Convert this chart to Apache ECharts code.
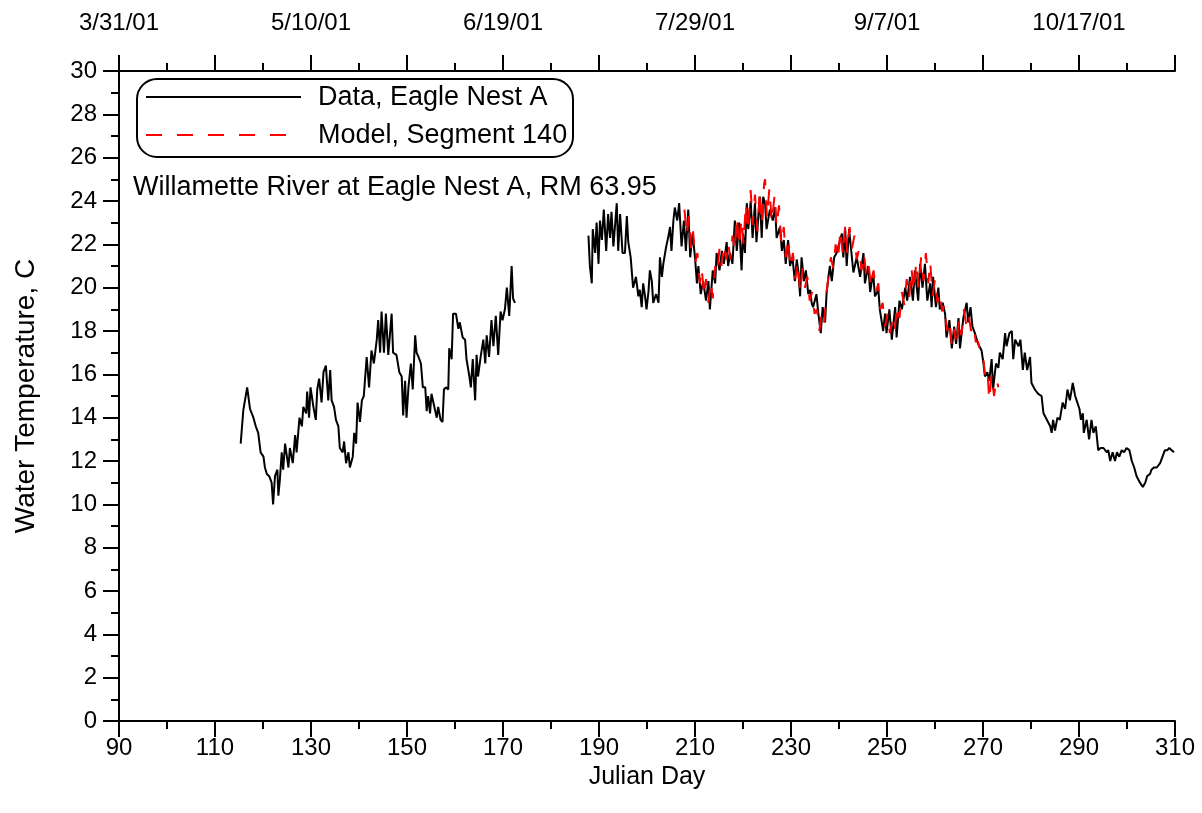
<!DOCTYPE html>
<html><head><meta charset="utf-8">
<script src="https://cdn.jsdelivr.net/npm/echarts@6/dist/echarts.min.js"></script>
<style>html,body{margin:0;padding:0;background:#fff}#c{width:1202px;height:813px}</style>
</head><body><div id="c"></div><script>
// Observed data, Eagle Nest A (day, temperature); null marks the data gap
const dataDays = [
115.35,115.9,116.7,117.3,118.0,118.5,119.0,119.5,120.1,120.4,120.8,121.3,121.8,122.1,122.5,123.0,123.2,123.5,123.9,124.2,124.6,125.3,125.6,126.2,126.7,127.0,127.6,128.1,128.4,129.0,129.2,129.6,129.9,130.5,131.0,131.3,131.7,132.2,132.6,133.1,133.6,134.0,134.3,134.8,135.2,135.7,136.0,136.6,136.9,137.3,137.8,138.1,138.7,139.0,139.4,139.7,140.2,140.6,141.0,141.6,142.1,142.6,143.1,143.7,144.0,
144.4,144.7,145.2,145.6,146.1,146.8,147.1,147.8,148.4,148.9,149.2,149.6,149.9,150.3,150.8,151.2,151.7,152.0,152.4,152.9,153.3,153.8,154.1,154.4,154.8,155.1,155.6,156.2,156.5,157.0,157.4,157.7,158.1,158.6,158.8,159.3,159.6,160.2,160.7,161.0,161.6,162.1,162.4,163.0,163.3,163.7,164.2,164.5,164.8,165.4,165.9,166.3,166.6,167.1,167.6,168.0,168.5,169.0,169.5,169.9,170.4,170.8,171.3,171.8,172.1,172.5,
180,
187.8,188.1,188.5,188.7,189.2,189.5,189.9,190.2,190.6,191.0,191.5,191.9,192.3,192.6,193.0,193.7,194.0,194.4,194.9,195.4,195.8,196.1,196.6,197.1,197.7,198.2,198.5,198.9,199.2,199.6,199.9,200.3,200.6,201.0,201.3,201.9,202.4,202.7,203.1,203.4,204.0,204.4,204.8,205.1,205.5,205.8,206.3,206.7,207.2,207.7,208.1,208.6,209.0,209.5,210.0,210.4,210.7,211.2,211.7,212.3,212.8,213.1,213.7,214.2,214.5,215.1,215.6,216.0,216.6,216.9,217.3,217.8,218.3,218.7,219.2,219.7,220.0,220.4,220.8,221.1,221.6,222.0,222.5,222.8,223.5,223.9,224.2,224.6,224.9,225.6,226.2,226.7,227.0,227.7,228.1,228.5,228.9,229.4,229.8,230.3,230.8,231.2,231.5,231.9,232.2,232.7,233.1,233.6,234.0,234.3,234.6,235.3,235.7,236.2,236.6,237.1,237.4,237.8,238.1,238.5,239.0,239.5,240.1,240.6,240.9,241.3,241.6,242.1,
243.0,243.7,244.4,245.1,245.4,246.1,246.5,247.1,247.5,248.2,248.5,249.2,249.6,249.9,250.5,251.0,251.7,252.0,252.6,253.1,253.8,254.2,254.8,255.4,255.8,256.5,256.9,257.4,257.9,258.4,259.0,259.3,259.6,260.2,260.7,261.0,261.6,262.1,262.4,263.0,263.5,264.0,264.4,264.9,265.2,265.9,266.6,266.9,267.4,267.8,268.3,269.0,269.7,270.1,270.4,270.9,271.3,271.8,272.1,272.7,273.2,273.5,274.1,274.6,274.9,275.5,276.0,276.3,276.7,277.4,277.8,278.3,278.7,279.2,279.8,280.1,280.8,281.5,282.2,282.6,283.3,284.0,284.3,284.6,285.0,285.5,286.0,286.6,287.1,287.6,288.1,288.7,289.2,289.5,290.1,290.4,290.8,291.0,291.6,292.1,292.6,293.0,293.5,294.0,294.5,295.1,295.8,296.1,296.5,297.0,297.5,297.9,298.4,298.9,299.4,299.9,300.5,301.0,301.5,302.0,302.7,303.3,303.8,304.2,304.8,305.1,305.6,306.2,306.9,307.4,307.9,308.4,308.8,309.3,309.8
];
const dataTemps = [
12.8,14.35,15.4,14.4,14.0,13.6,13.3,12.4,12.2,11.7,11.4,11.3,11.0,10.0,11.3,11.6,10.4,11.1,12.4,11.6,12.8,11.7,12.6,11.9,13.2,12.4,14.0,13.6,14.5,14.2,15.2,14.0,15.4,14.5,13.9,15.3,15.8,14.7,16.1,16.4,14.8,16.2,14.8,14.5,13.9,13.6,12.6,12.4,12.9,11.9,12.4,11.7,12.2,13.3,12.8,14.7,13.8,14.8,15.0,16.8,15.4,17.1,16.5,17.6,18.5,
17.0,18.9,17.0,18.8,16.9,18.8,17.0,16.9,16.1,15.9,14.1,15.7,14.0,15.4,16.5,15.3,17.8,17.0,16.8,16.5,15.4,15.4,14.3,15.0,14.2,15.1,14.6,14.0,14.5,13.9,13.8,15.3,15.4,15.3,17.2,16.7,18.8,18.8,18.1,18.4,17.7,17.6,16.7,15.9,15.4,16.7,14.8,16.9,15.9,16.9,17.6,16.5,17.8,16.8,18.5,17.3,18.7,16.9,18.9,18.5,19.0,20.0,18.7,21.0,19.5,19.3,
null,
22.4,21.0,20.2,22.7,21.6,23.0,21.1,23.1,22.2,23.6,21.7,23.4,22.3,23.5,21.9,23.9,21.7,23.4,21.6,21.6,23.3,22.1,21.4,20.0,20.5,19.6,19.9,19.1,20.2,19.6,19.0,19.8,20.8,20.3,19.3,19.7,19.3,21.4,20.5,21.1,21.9,22.3,22.8,21.7,23.1,23.7,23.1,23.9,21.9,23.1,21.7,23.6,21.4,22.5,21.4,20.2,21.0,19.7,20.3,19.4,20.3,19.0,20.8,20.2,21.6,20.8,21.7,21.1,22.1,21.0,21.6,21.1,23.1,21.7,23.0,20.8,22.5,21.6,23.9,22.7,24.0,22.3,23.9,22.1,24.2,22.3,24.2,23.9,22.7,23.6,23.1,23.7,22.3,22.8,21.7,22.2,21.1,22.2,21.0,21.4,20.3,21.3,20.8,19.6,21.4,20.3,20.8,19.7,19.9,19.3,19.1,19.7,18.8,17.9,19.1,18.4,19.7,20.5,21.0,20.3,21.4,21.6,22.1,22.5,21.4,22.7,21.0,22.7,
20.7,21.4,20.5,21.6,20.2,21.0,19.8,20.7,19.6,19.9,19.0,18.0,18.8,17.9,19.0,17.6,19.1,17.7,19.4,19.0,20.0,19.4,20.5,19.4,20.8,19.4,21.1,20.0,21.1,19.4,20.2,19.1,20.5,19.1,20.0,19.0,19.3,18.8,17.7,18.5,17.2,18.2,17.4,18.6,17.2,18.6,19.3,18.4,19.1,18.2,17.9,17.4,17.1,16.5,15.9,16.1,15.7,16.7,15.3,16.5,16.3,17.0,16.7,17.9,17.3,17.9,18.0,16.7,17.6,17.3,17.6,16.2,17.0,16.2,16.8,15.6,15.3,15.1,15.0,14.2,13.9,13.6,13.3,13.9,13.4,14.0,13.9,14.7,14.4,15.3,14.8,15.6,15.0,14.8,14.4,13.9,14.2,13.3,13.9,13.0,13.9,13.3,13.6,12.5,12.6,12.6,12.4,12.5,12.0,12.4,12.0,12.4,12.2,12.5,12.4,12.6,12.5,12.0,11.7,11.3,11.0,10.8,11.0,11.3,11.4,11.6,11.7,11.7,11.9,12.2,12.5,12.5,12.6,12.5,12.4
];
// Model, Segment 140
const modelDays = [
207.8,208.3,208.7,209.2,209.6,210.1,210.5,211.0,211.4,211.9,212.3,212.8,213.3,213.7,214.2,214.6,215.1,215.5,216.0,216.5,216.9,217.4,217.8,218.3,218.7,219.2,219.7,220.1,220.6,221.0,221.6,222.0,222.5,223.0,223.5,223.9,224.4,224.6,225.0,225.5,226.0,226.6,227.0,227.5,228.0,228.5,228.9,229.4,229.9,230.4,230.9,231.4,231.9,232.4,232.9,233.4,233.9,234.4,234.9,235.4,235.9,236.4,236.9,237.4,237.8,238.3,238.8,239.3,239.8,240.3,240.8,241.3,241.7,242.2,242.7,243.2,243.7,244.2,244.7,245.2,245.7,246.2,246.7,247.2,247.7,248.2,248.6,249.1,249.6,250.1,250.6,251.1,251.6,252.1,252.6,253.1,253.6,254.1,254.6,255.1,255.6,256.1,256.6,257.1,257.6,258.1,258.6,259.0,259.5,260.0,260.5,261.0,261.5,262.0,262.5,263.0,263.5,264.0,264.5,265.0,265.5,266.0,266.5,267.0,267.5,268.0,268.5,269.0,269.5,270.0,270.4,270.9,271.3,271.8,272.3,272.8,273.2
];
const modelTemps = [
23.6,22.4,23.3,21.8,22.6,21.2,21.6,20.2,20.9,19.6,20.4,19.3,20.3,19.5,21.0,20.6,21.8,21.0,22.0,21.3,22.1,21.3,22.4,21.7,23.3,21.9,23.2,22.0,23.9,22.6,24.5,22.9,24.3,22.6,24.5,22.9,24.8,25.0,23.2,24.6,23.0,24.3,22.8,23.8,22.0,22.8,21.4,22.3,20.9,21.6,20.4,21.2,19.8,20.9,20.0,20.5,19.4,19.8,18.8,19.0,18.0,18.9,18.4,19.8,20.5,21.4,20.9,22.0,21.3,22.7,21.5,22.9,21.6,22.8,21.8,22.4,21.3,21.8,20.8,21.6,20.5,21.0,20.0,20.8,19.8,20.2,19.0,19.3,18.2,18.8,17.9,18.5,18.0,19.2,18.6,19.8,19.2,20.4,19.5,20.9,19.8,21.2,20.0,21.4,20.3,21.6,20.2,21.2,19.6,20.4,19.3,19.8,18.9,19.2,18.0,18.5,17.3,18.1,17.3,18.6,17.8,19.0,18.3,18.8,18.0,18.3,17.5,17.5,16.9,16.9,16.0,16.3,14.8,16.0,15.0,15.8,15.4
];
// Axis labels
const topTickDays = [90,130,170,210,250,290];
const topTickLabels = ['3/31/01','5/10/01','6/19/01','7/29/01','9/7/01','10/17/01'];
const seriesNames = ['Data, Eagle Nest A','Model, Segment 140'];
const annotation = 'Willamette River at Eagle Nest A, RM 63.95';

const FONT = '"Liberation Sans", Arial, sans-serif';
const FS = 24;
const chart = echarts.init(document.getElementById('c'), null, {renderer:'canvas'});
const axisCommon = {
  type:'value', min:90, max:310, interval:20,
  axisLine:{show:true, onZero:false, lineStyle:{color:'#000', width:2}},
  axisTick:{show:true, inside:false, length:16, lineStyle:{color:'#000', width:2}},
  minorTick:{show:true, splitNumber:2, length:8, lineStyle:{color:'#000', width:2}},
  splitLine:{show:false}, minorSplitLine:{show:false}
};
chart.setOption({
  animation:false,
  backgroundColor:'#fff',
  grid:{left:119, right:27, top:71, bottom:92, containLabel:false},
  xAxis:[
    Object.assign({}, axisCommon, {
      position:'bottom',
      name:'Julian Day', nameLocation:'middle', nameGap:41,
      nameTextStyle:{fontFamily:FONT, fontSize:25, color:'#000'},
      axisLabel:{fontFamily:FONT, fontSize:FS, color:'#000', margin:15}
    }),
    Object.assign({}, axisCommon, {
      position:'top',
      axisLabel:{fontFamily:FONT, fontSize:FS, color:'#000', margin:36,
        formatter:function(v){const i=topTickDays.indexOf(v);return i>=0?topTickLabels[i]:'';}}
    })
  ],
  yAxis:{
    type:'value', min:0, max:30, interval:2,
    name:'Water Temperature, C', nameLocation:'middle', nameGap:79,
    nameTextStyle:{fontFamily:FONT, fontSize:28, color:'#000'},
    axisLine:{show:true, onZero:false, lineStyle:{color:'#000', width:2}},
    axisTick:{show:true, inside:false, length:16, lineStyle:{color:'#000', width:2}},
    minorTick:{show:true, splitNumber:2, length:8, lineStyle:{color:'#000', width:2}},
    axisLabel:{fontFamily:FONT, fontSize:FS, color:'#000', margin:22},
    splitLine:{show:false}, minorSplitLine:{show:false}
  },
  series:[
    {name:seriesNames[0], type:'line', xAxisIndex:0, symbol:'none', connectNulls:false,
     lineStyle:{color:'#000', width:2}, data:dataDays.map((d,i)=>[d, dataTemps[i]])},
    {name:seriesNames[1], type:'line', xAxisIndex:0, symbol:'none',
     lineStyle:{color:'#ff0000', width:2, type:[16,15]}, data:modelDays.map((d,i)=>[d, modelTemps[i]])}
  ],
  graphic:[
    {type:'rect', shape:{x:137, y:79, width:436, height:78, r:20}, style:{fill:'#fff', stroke:'#000', lineWidth:2}, z:10},
    {type:'line', shape:{x1:146, y1:97, x2:301, y2:97}, style:{stroke:'#000', lineWidth:2}, z:11},
    {type:'line', shape:{x1:146, y1:135, x2:293, y2:135}, style:{stroke:'#ff0000', lineWidth:2, lineDash:[16,15]}, z:11},
    {type:'text', x:318, y:98, style:{text:seriesNames[0], font:'27px '+FONT, fill:'#000', textVerticalAlign:'middle'}, z:11},
    {type:'text', x:318, y:136, style:{text:seriesNames[1], font:'27px '+FONT, fill:'#000', textVerticalAlign:'middle'}, z:11},
    {type:'text', x:133, y:188, style:{text:annotation, font:'27px '+FONT, fill:'#000', textVerticalAlign:'middle'}, z:11}
  ]
});
</script></body></html>
